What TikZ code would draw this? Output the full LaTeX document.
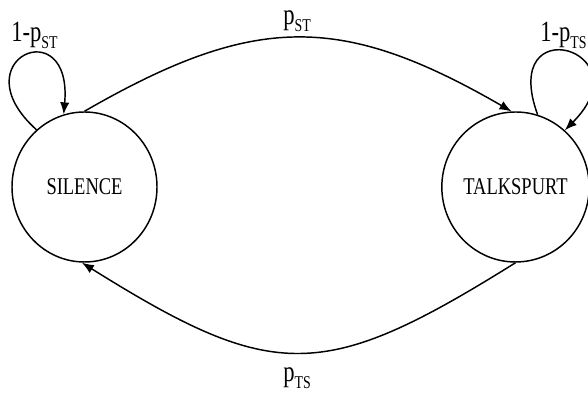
\documentclass[tikz,border=0pt]{standalone}
\usepackage{fontspec}
\setmainfont{Liberation Serif}[FakeStretch=0.77]
\usetikzlibrary{arrows.meta,shapes.geometric}
\newcommand{\trans}[2]{#1\raisebox{-5pt}{\fontsize{13.5}{13.5}\selectfont #2}}

\begin{document}
\begin{tikzpicture}[x=0.75pt,y=0.75pt,
	state/.style={draw,ellipse,line width=1.1pt,minimum width=108.75pt,minimum height=112.5pt,inner sep=0pt,font=\fontsize{18}{18}\selectfont},
	edge/.style={line width=1.1pt,-{Latex[length=9pt,width=7pt]}},
	prob/.style={inner sep=0pt,font=\fontsize{22}{22}\selectfont}]
	\useasboundingbox (0,0) rectangle (588,398);
	\node[state] (silence) at (84.5,211) {SILENCE};
	\node[state] (talkspurt) at (515.5,211) {TALKSPURT};
	% transitions between the two states
	\draw[edge] (silence.north) to[out=30,in=150,looseness=1.18] (talkspurt.93);
	\draw[edge] (talkspurt.south) to[out=-148,in=-32,looseness=1.34] (silence.268);
	% staying in the same state
	\draw[edge] (silence.130) to[out=138,in=85,looseness=8.6] (silence.106);
	\draw[edge] (talkspurt.73) to[out=110,in=45,looseness=9.3] (talkspurt.49);
	% probabilities
	\node[prob,anchor=base west] (pst) at (283,373) {\trans{p}{ST}};
	\node[prob,anchor=base west] (pts) at (283,16) {\trans{p}{TS}};
	\node[prob,anchor=base west] (stayst) at (11,356) {\trans{1-p}{ST}};
	\node[prob,anchor=base west] (stayts) at (540,356) {\trans{1-p}{TS}};
\end{tikzpicture}
\end{document}
